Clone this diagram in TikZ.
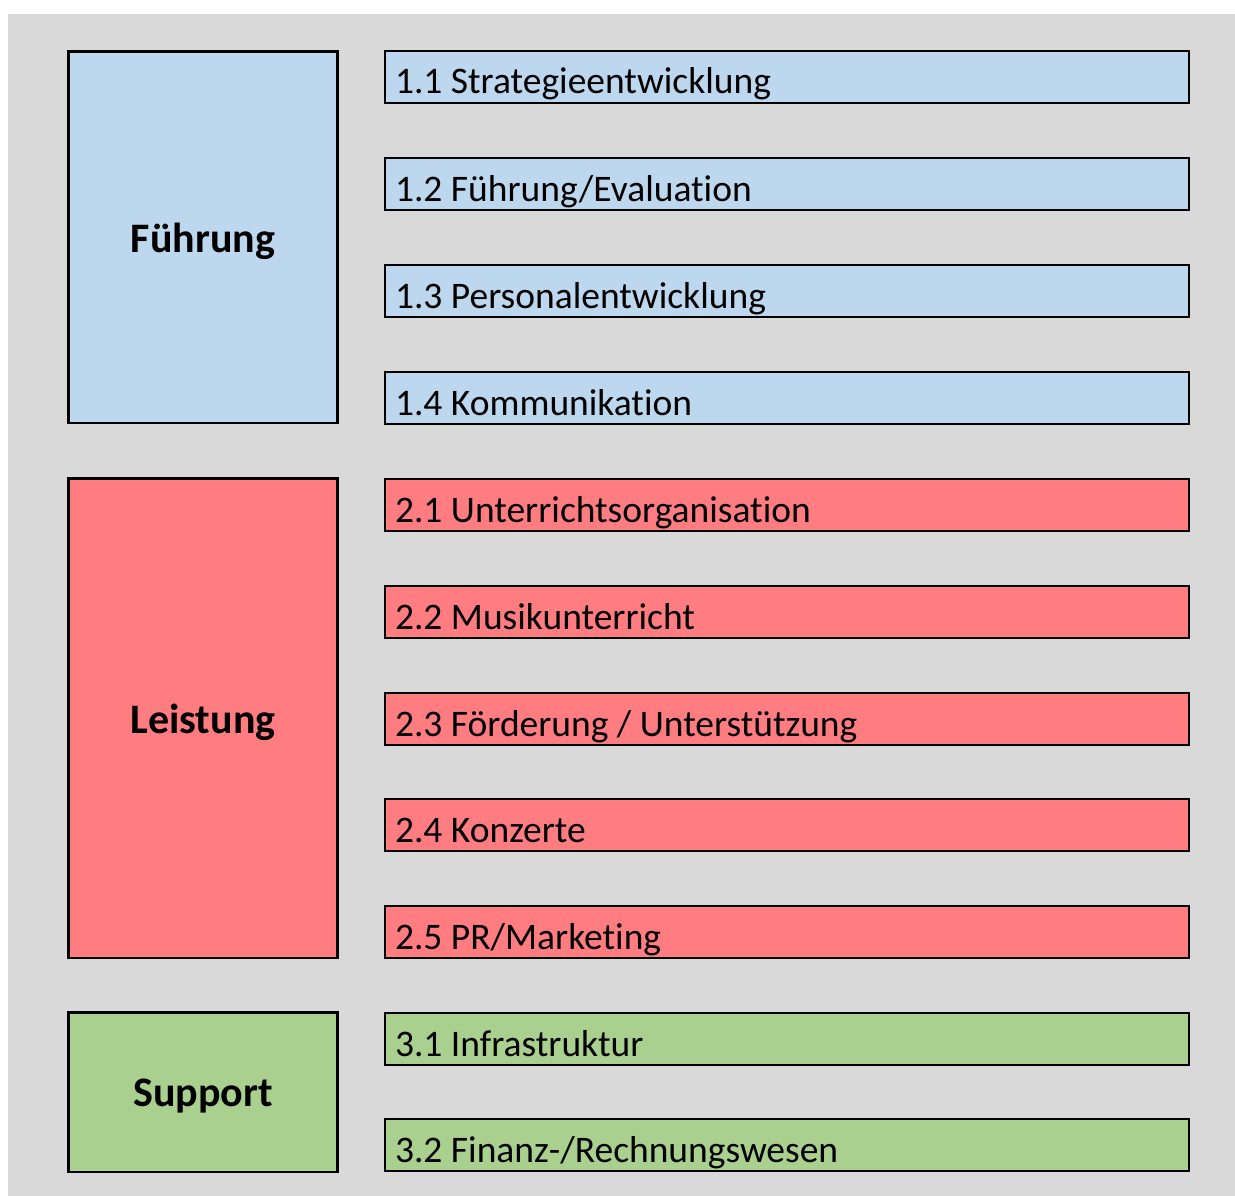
\documentclass[tikz,border=0pt]{standalone}
\usepackage{fontspec}
\setmainfont{Carlito}[Ligatures=NoCommon]
\usetikzlibrary{calc}
\definecolor{bggray}{HTML}{D9D9D9}
\definecolor{fblue}{HTML}{BDD7EE}
\definecolor{lred}{HTML}{FF7C80}
\definecolor{sgreen}{HTML}{A9D08E}
\tikzset{
  every node/.style={inner sep=0pt, outer sep=0pt},
  catbox/.style={draw=black, line width=2.6pt, anchor=north west, minimum width=269pt, font=\fontsize{42}{50}\selectfont\bfseries},
  subbox/.style={draw=black, line width=2.4pt, anchor=north west, minimum width=804pt, minimum height=52pt},
  subtext/.style={anchor=base west, font=\fontsize{37.5}{45}\selectfont, xshift=10pt, yshift=9pt}
}
\begin{document}
\begin{tikzpicture}[x=1pt,y=-1pt]
\useasboundingbox (0,0) rectangle (1235,1196);
\fill[bggray] (8,14) rectangle (1235,1196);
% categories
\node[catbox, fill=fblue, minimum height=371.5pt] (fuehrung) at (68.5,51.5) {};
\node[catbox, fill=lred, minimum height=479.5pt] (leistung) at (68.5,478.5) {};
\node[catbox, fill=sgreen, minimum height=159.5pt] (support) at (68.5,1012.5) {};
\foreach \n/\t in {fuehrung/Führung, leistung/Leistung, support/Support}{
  \node[font=\fontsize{42}{50}\selectfont\bfseries, yshift=-4pt] (\n t) at (\n.center) {\t};
}
% sub-boxes
\foreach \n/\y/\c/\t in {
  s11/51/fblue/{1.1 Strategieentwicklung},
  s12/158/fblue/{1.2 Führung/Evaluation},
  s13/265/fblue/{1.3 Personalentwicklung},
  s14/372/fblue/{1.4 Kommunikation},
  s21/479/lred/{2.1 Unterrichtsorganisation},
  s22/586/lred/{2.2 Musikunterricht},
  s23/693/lred/{2.3 Förderung / Unterstützung},
  s24/799/lred/{2.4 Konzerte},
  s25/906/lred/{2.5 PR/Marketing},
  s31/1013/sgreen/{3.1 Infrastruktur},
  s32/1119/sgreen/{3.2 Finanz-/Rechnungswesen}}{
  \node[subbox, fill=\c] (\n) at (385,\y) {};
  \node[subtext] (\n t) at (\n.south west) {\t};
}
\end{tikzpicture}
\end{document}
